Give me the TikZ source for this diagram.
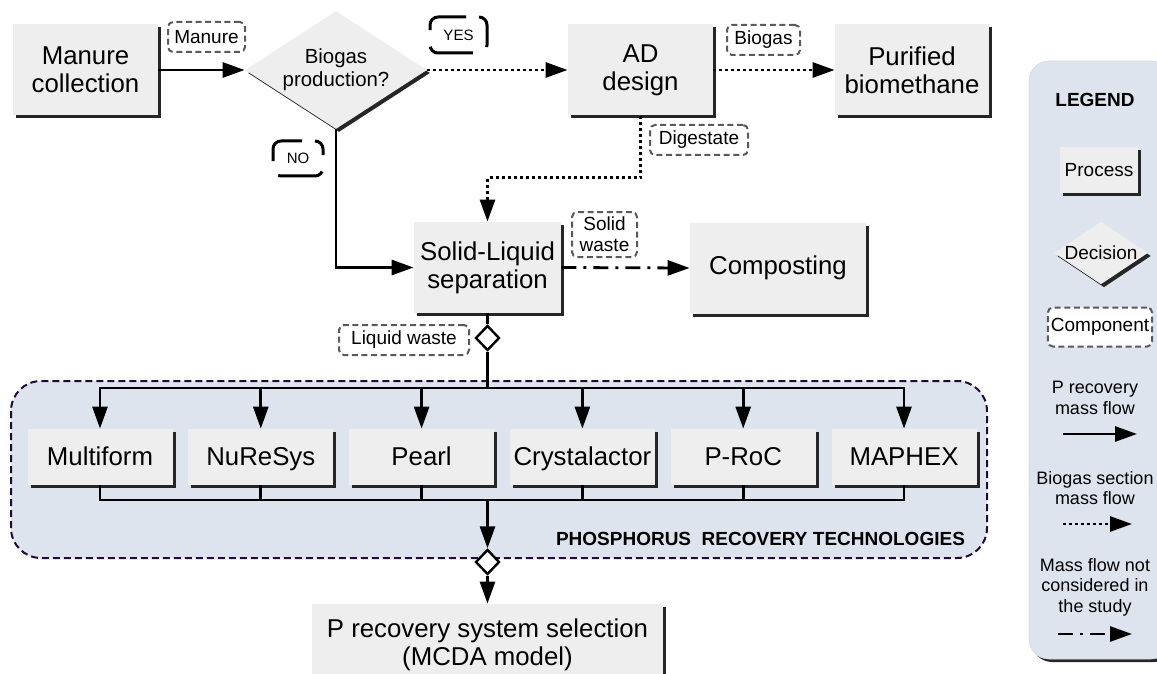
\documentclass[tikz,border=0pt]{standalone}
\usepackage{fontspec}
\setmainfont{Liberation Sans}
\usetikzlibrary{positioning, arrows.meta, shapes.geometric, shadows}
\definecolor{boxgray}{RGB}{238, 238, 238}
\definecolor{regionfill}{RGB}{221, 228, 238}
\definecolor{regionedge}{RGB}{30, 12, 55}
\definecolor{compgray}{RGB}{90, 90, 90}

\begin{document}
\begin{tikzpicture}[
    x=0.5pt, y=-0.5pt,
    font=\fontsize{12.9}{14}\selectfont,
    boxshadow/.style={
        drop shadow={shadow xshift=1.5pt, shadow yshift=-1.5pt,
                     fill=black!85, opacity=1},
    },
    procbox/.style={
        rectangle, fill=boxgray, boxshadow,
        align=center, inner sep=1.5pt,
        minimum width=#1, minimum height=45.5pt,
    },
    procbox/.default=72.5pt,
    techbox/.style={
        procbox=72.5pt, minimum height=28pt,
        text height=0.8em, text depth=0em,
    },
    decision/.style={
        diamond, fill=boxgray, boxshadow,
        align=center, inner sep=0pt,
    },
    comp/.style={
        rectangle, rounded corners=2.5pt,
        draw=compgray, fill=white, line width=1pt,
        dash pattern=on 3pt off 1.8pt,
        font=\fontsize{9.5}{10.5}\selectfont, align=center,
        inner xsep=1.5pt, inner ysep=2pt, minimum height=15pt,
    },
    answer/.style={
        rectangle, rounded corners=4pt,
        draw=black, line width=1.5pt,
        dash pattern=on 22.8pt off 8.3pt, dash phase=24.6pt,
        font=\fontsize{7.5}{9}\selectfont,
        inner sep=0pt, minimum width=#1, minimum height=18pt,
    },
    joint/.style={
        diamond, draw=black, fill=white, line width=1.2pt,
        inner sep=0pt, minimum width=12pt, minimum height=12.5pt,
    },
    flow/.style={-{Triangle[length=11pt, width=7.5pt]}, line width=1.4pt},
    bioflow/.style={flow, dash pattern=on 1.5pt off 1.5pt},
    outflow/.style={flow, dash pattern=on 7.5pt off 3.5pt on 1.5pt off 3.5pt},
    bus/.style={line width=1.4pt},
    techregion/.style={
        draw=regionedge, fill=regionfill, line width=1pt,
        dash pattern=on 3.5pt off 2pt, rounded corners=15pt,
    },
    legendbox/.style={
        rectangle, rounded corners=10pt,
        fill=regionfill, draw=gray!30, line width=0.3pt, boxshadow,
    },
    legendtext/.style={font=\fontsize{9}{10.2}\selectfont, align=center},
    grouptitle/.style={font=\fontsize{9.5}{11}\selectfont\bfseries},
]

\useasboundingbox (0,0) rectangle (1157,674);

% =================================================
% Backgrounds: technology group and legend
% =================================================
\draw[techregion] (11,381) rectangle (987,558);
\node[grouptitle, anchor=base east] (ptitle) at (972,545)
    {PHOSPHORUS\ \ RECOVERY TECHNOLOGIES};

\node[legendbox, minimum width=71pt, minimum height=299pt] (legend) at (1100,360) {};

% =================================================
% TOP: manure and biogas section
% =================================================
\node[procbox] (collect) at (85.5,70) {Manure\\collection};
\node[decision, minimum width=91pt, minimum height=59pt, shape aspect=1.54,
      font=\fontsize{10.2}{11.5}\selectfont] (biogasq) at (336,70) {Biogas\\production?};
\node[procbox] (ad) at (640.5,70) {AD\\design};
\node[procbox=77pt] (purified) at (912,70) {Purified\\biomethane};

\node[comp, minimum width=38.5pt] (manurelbl) at (206.5,37) {Manure};
\node[comp, minimum width=36.5pt] (biogaslbl) at (763.5,40) {Biogas};
\node[comp, minimum width=49pt] (digestlbl) at (699,140) {Digestate};
\node[answer=28.5pt] (yes) at (458.5,35) {YES};
\node[answer=25pt, minimum height=17.5pt] (no) at (298,158.5) {NO};

% =================================================
% MIDDLE: separation
% =================================================
\node[procbox=73.5pt] (separation) at (487.5,267.5) {Solid-Liquid\\separation};
\node[procbox=88pt] (compost) at (778,268) {Composting};
\node[comp, minimum width=32.5pt, minimum height=22.5pt] (solidlbl) at (604.5,234.5) {Solid\\waste};

\node[joint] (joint1) at (487.5,338) {};
\node[comp, minimum width=65pt] (liquidlbl) at (404,340) {Liquid waste};

% =================================================
% P recovery technologies
% =================================================
\node[techbox] (multiform) at (100,457) {Multiform};
\node[techbox, right=7.5pt of multiform] (nuresys) {NuReSys};
\node[techbox, right=7.5pt of nuresys] (pearl) {Pearl};
\node[techbox, right=7.5pt of pearl] (crystal) {Crystalactor};
\node[techbox, right=7.5pt of crystal] (proc) {P-RoC};
\node[techbox, right=7.5pt of proc] (maphex) {MAPHEX};

\node[joint] (joint2) at (487.5,562) {};
\node[procbox=175.5pt, minimum height=41pt] (mcda) at (487.5,645)
    {P recovery system selection\\(MCDA model)};

% =================================================
% Flow arrows
% =================================================
\draw[flow]    (collect.east)  -- (biogasq.west);
\draw[bioflow] (biogasq.east)  -- (ad.west);
\draw[bioflow] (ad.east)       -- (purified.west);
\draw[bioflow] (ad.south) -- ++(0,62) -| (separation.north);
\draw[flow]    (biogasq.south) |- (separation.west);
\draw[outflow] (separation.east) -- (compost.west);

\coordinate (bustop) at (487.5,388);
\coordinate (busbot) at (487.5,500);
\draw[bus] (separation.south) -- (joint1.north);
\draw[bus] (joint1.south) -- (bustop);
\draw[flow] (bustop) -| (multiform.north);
\draw[flow] (bustop) -| (nuresys.north);
\draw[flow] (bustop) -| (pearl.north);
\draw[flow] (bustop) -| (crystal.north);
\draw[flow] (bustop) -| (proc.north);
\draw[flow] (bustop) -| (maphex.north);

\draw[bus] (multiform.south) |- (busbot);
\draw[bus] (nuresys.south)   |- (busbot);
\draw[bus] (pearl.south)     |- (busbot);
\draw[bus] (crystal.south)   |- (busbot);
\draw[bus] (proc.south)      |- (busbot);
\draw[bus] (maphex.south)    |- (busbot);
\draw[flow] (busbot) -- (joint2.north);
\draw[flow] (joint2.south) -- (mcda.north);

% =================================================
% Legend
% =================================================
\node[grouptitle] (lgtitle) at (1095,100) {LEGEND};
\node[procbox=39pt, minimum height=23pt, font=\fontsize{9.5}{11}\selectfont]
    (lgprocess) at (1099,170) {Process};
\node[decision, minimum width=46.5pt, minimum height=31pt, shape aspect=1.5,
      font=\fontsize{9.5}{11}\selectfont] (lgdecision) at (1101,253) {Decision};
\node[comp, minimum width=52pt, minimum height=19.5pt] (lgcomp) at (1100,327) {Component};

\node[legendtext] (lgptext) at (1095,398) {P recovery\\mass flow};
\coordinate (lgpa) at (1063,434);
\coordinate (lgpb) at (1137,434);
\draw[flow] (lgpa) -- (lgpb);

\node[legendtext] (lgbtext) at (1095,488) {Biogas section\\mass flow};
\coordinate (lgba) at (1063,524);
\coordinate (lgbb) at (1132,524);
\draw[bioflow] (lgba) -- (lgbb);

\node[legendtext] (lgotext) at (1095,587) {Mass flow not\\considered in\\the study};
\coordinate (lgoa) at (1058,634);
\coordinate (lgob) at (1132,634);
\draw[outflow] (lgoa) -- (lgob);

\end{tikzpicture}
\end{document}
